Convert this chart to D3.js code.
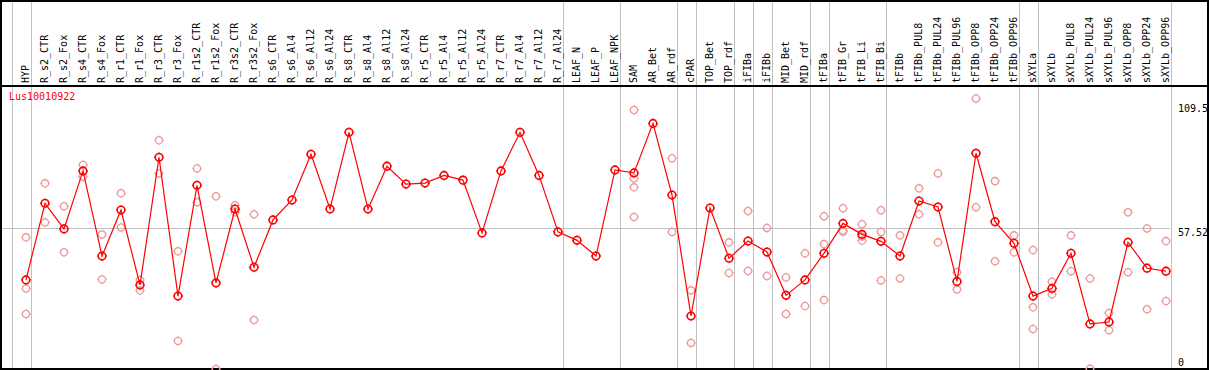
<!DOCTYPE html>
<html>
<head>
<meta charset="utf-8">
<script src="https://cdn.jsdelivr.net/npm/d3@7"></script>
<style>
  body { margin: 0; background: #fff; }
  text { font-family: "DejaVu Sans Mono", monospace; font-size: 10px; }
</style>
</head>
<body>
<svg id="chart" width="1209" height="370"></svg>
<script>
const geneName = "Lus10010922";

const samples = ["HYP", "R_s2_CTR", "R_s2_Fox", "R_s4_CTR", "R_s4_Fox", "R_r1_CTR", "R_r1_Fox",
  "R_r3_CTR", "R_r3_Fox", "R_r1s2_CTR", "R_r1s2_Fox", "R_r3s2_CTR", "R_r3s2_Fox",
  "R_s6_CTR", "R_s6_Al4", "R_s6_Al12", "R_s6_Al24", "R_s8_CTR", "R_s8_Al4", "R_s8_Al12", "R_s8_Al24",
  "R_r5_CTR", "R_r5_Al4", "R_r5_Al12", "R_r5_Al24", "R_r7_CTR", "R_r7_Al4", "R_r7_Al12", "R_r7_Al24",
  "LEAF_N", "LEAF_P", "LEAF_NPK", "SAM", "AR_Bet", "AR_rdf", "cPAR", "TOP_Bet", "TOP_rdf",
  "iFIBa", "iFIBb", "MID_Bet", "MID_rdf", "tFIBa", "tFIB_Gr", "tFIB_Li", "tFIB_Bi", "tFIBb",
  "tFIBb_PUL8", "tFIBb_PUL24", "tFIBb_PUL96", "tFIBb_OPP8", "tFIBb_OPP24", "tFIBb_OPP96",
  "sXYLa", "sXYLb", "sXYLb_PUL8", "sXYLb_PUL24", "sXYLb_PUL96", "sXYLb_OPP8", "sXYLb_OPP24", "sXYLb_OPP96"];

// number of samples in each tissue group (separated by grey lines)
const groupSizes = [1, 28, 3, 3, 1, 2, 1, 1, 2, 1, 3, 7, 1, 7];

const means = [36.6, 67.4, 57.1, 80.4, 46.2, 64.7, 34.6, 85.9, 30.1, 74.6, 35.4, 65.1, 41.7,
  60.7, 68.7, 87.1, 65.1, 95.9, 65.1, 82.3, 75.1, 75.5, 78.6, 76.7, 55.5, 80.4, 95.9, 78.6, 55.9,
  52.5, 46.2, 80.8, 79.6, 99.5, 70.7, 22.1, 65.5, 45.3, 52.2, 47.8, 30.4, 36.6, 47.3, 59.3, 54.9,
  52.1, 46.2, 68.3, 65.9, 36.0, 87.5, 60.0, 51.3, 30.1, 33.2, 47.3, 18.9, 19.7, 51.7, 41.3, 40.1];

const replicates = [[53.7, 33.2, 22.9], [75.4, 59.7], [66.2, 47.7], [82.8, 78.1], [54.9, 36.8],
  [71.4, 57.7], [36.6, 32.3], [92.7, 79.4], [48.1, 12.1], [81.4, 67.8], [70.2, 0.8], [66.6, 63.8],
  [63.0, 20.5],
  [], [], [], [], [], [], [], [], [], [], [], [], [], [], [], [], [], [], [],
  [104.9, 77.4, 73.8, 61.9], [], [85.5, 55.9], [32.4, 11.3], [], [51.7, 39.4], [64.3, 40.2],
  [57.5, 38.2], [37.6, 22.9], [47.3, 26.1], [62.2, 51.0, 28.5], [65.4, 56.4, 56.0],
  [59.0, 54.0, 52.4], [64.6, 55.9, 36.4], [54.5, 37.2], [73.4, 63.0], [79.4, 51.7], [39.7, 32.8],
  [109.5, 65.8], [76.3, 44.1], [54.5, 47.7], [48.6, 25.6, 16.9], [35.9, 30.8], [54.5, 40.1],
  [37.2, 0.9], [23.3, 16.4], [63.8, 39.7], [57.3, 24.8], [52.2, 28.1]];

const yTicks = [0, 57.52, 109.5];
const refLine = 57.52;

const W = 1209, H = 370;
const headerY = 85, plotRight = 1170;

const svg = d3.select("#chart");

const x = d3.scalePoint()
  .domain(samples)
  .range([26, 1166]);
const step = x.step();

const y = d3.scaleLinear()
  .domain([0, 109.5])
  .range([371, 98.5]);

// group separator lines
var ends = [-1];
var acc = 0;
groupSizes.forEach(function(n) { acc += n; ends.push(acc - 1); });

svg.append("g").selectAll("line")
  .data(ends)
  .join("line")
    .attr("x1", function(i) { return Math.round(26 + step * i + 4.5) + 0.5; })
    .attr("x2", function(i) { return Math.round(26 + step * i + 4.5) + 0.5; })
    .attr("y1", 0)
    .attr("y2", H)
    .attr("stroke", "#c0c0c0")
    .attr("stroke-width", 1);

// reference line
svg.append("line")
  .attr("x1", 2).attr("x2", plotRight)
  .attr("y1", Math.round(y(refLine)) + 0.5)
  .attr("y2", Math.round(y(refLine)) + 0.5)
  .attr("stroke", "#c0c0c0");

// sample labels in header
svg.append("g").selectAll("text")
  .data(samples)
  .join("text")
    .attr("transform", function(d) { return "translate(" + (x(d) + 3) + "," + 83 + ") rotate(-90)"; })
    .attr("text-anchor", "start")
    .attr("fill", "#000")
    .text(function(d) { return d; });

// frame + header separator
svg.append("rect")
  .attr("x", 1).attr("y", 1)
  .attr("width", W - 2).attr("height", H - 2)
  .attr("fill", "none")
  .attr("stroke", "#000")
  .attr("stroke-width", 2);
svg.append("line")
  .attr("x1", 0).attr("x2", W)
  .attr("y1", headerY + 0.5).attr("y2", headerY + 0.5)
  .attr("stroke", "#000")
  .attr("stroke-width", 2)
  .attr("shape-rendering", "crispEdges");

// gene name
svg.append("text")
  .attr("x", 9)
  .attr("y", 100)
  .attr("fill", "#ff0000")
  .text(geneName);

// y tick labels on the right
svg.append("g").selectAll("text")
  .data(yTicks)
  .join("text")
    .attr("x", 1178)
    .attr("y", function(d) { return Math.min(Math.max(y(d) + 8, 112), 366); })
    .attr("fill", "#000")
    .text(function(d) { return d; });

function marker(g, r, sw) {
  g.append("circle").attr("r", r).attr("fill", "none").attr("stroke-width", sw);
  g.append("path")
    .attr("fill", "none")
    .attr("stroke-width", 1)
    .attr("d", "M0," + (-r - 1.2) + "V" + (-r) + "M0," + r + "V" + (r + 1.2) +
               "M" + (-r - 1.2) + ",0H" + (-r) + "M" + r + ",0H" + (r + 1.2));
}

// replicate points
var reps = [];
replicates.forEach(function(vals, i) {
  vals.forEach(function(v) { reps.push({ s: samples[i], v: v }); });
});
svg.append("g")
  .attr("stroke", "#ee9a9a")
  .selectAll("g")
  .data(reps)
  .join("g")
    .attr("transform", function(d) { return "translate(" + x(d.s) + "," + y(d.v) + ")"; })
    .each(function() { marker(d3.select(this), 3.6, 1.3); });

// mean line
const line = d3.line()
  .x(function(d, i) { return x(samples[i]); })
  .y(function(d) { return y(d); });

svg.append("path")
  .datum(means)
  .attr("fill", "none")
  .attr("stroke", "#ff0000")
  .attr("stroke-width", 1.2)
  .attr("d", line);

svg.append("g")
  .attr("stroke", "#ff0000")
  .selectAll("g")
  .data(means)
  .join("g")
    .attr("transform", function(d, i) { return "translate(" + x(samples[i]) + "," + y(d) + ")"; })
    .each(function() { marker(d3.select(this), 3.8, 1.6); });
</script>
</body>
</html>
